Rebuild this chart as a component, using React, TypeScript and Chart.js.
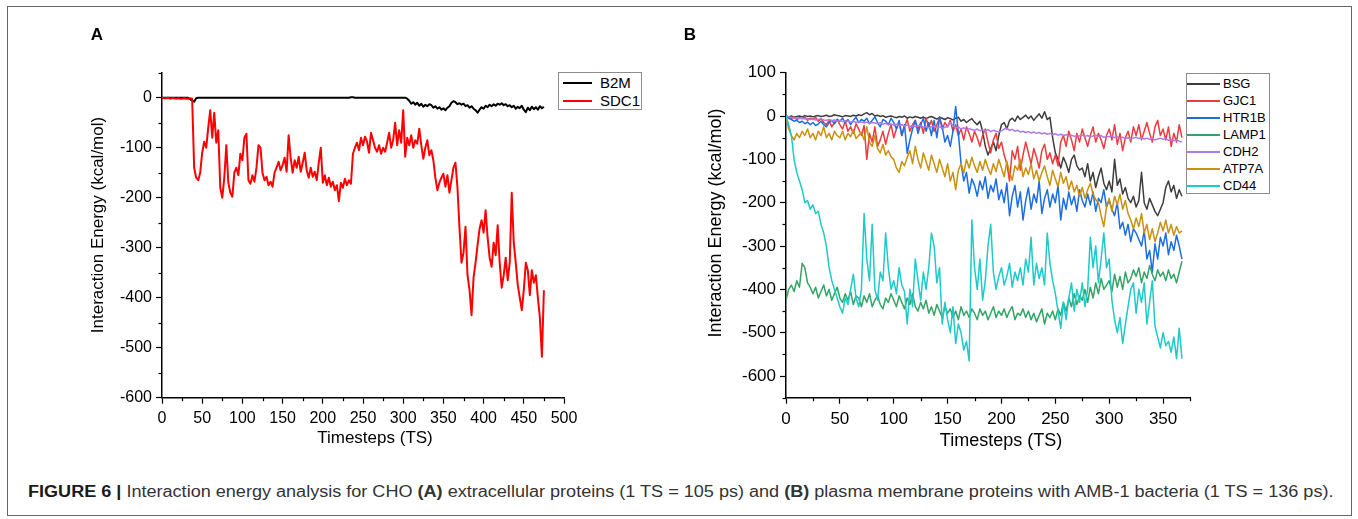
import React, { useEffect, useLayoutEffect, useRef, useState } from "react";
import { Chart, registerables } from "chart.js";

Chart.register(...registerables);

const FONT = '"Liberation Sans", Arial, Helvetica, sans-serif';

// ---------------- Panel A (1 TS step = 2.5) ----------------
const A_STEP = 2.5;
const A_NAMES = ["B2M", "SDC1"];
const A_COLORS = ["#000000", "#ff0000"];
const A_B2M = [
  0, 0, 0, 0, 0, 0, 0, 0, 0, 0,
  0, 0, 0, 0, -3, -6, -8, -1, 0, 0,
  0, 0, 0, 0, 0, 0, 0, 0, 0, 0,
  0, 0, 0, 0, 0, 0, 0, 0, 0, 0,
  0, 0, 0, 0, 0, 0, 0, 0, 0, 0,
  0, 0, 0, 0, 0, 0, 0, 0, 0, 0,
  0, 0, 0, 0, 0, 0, 0, 0, 0, 0,
  0, 0, 0, 0, 0, 0, 0, 0, 0, 0,
  0, 0, 0, 0, 0, 0, 0, 0, 0, 0,
  0, 0, 0, 0, 1, 1, 0, 0, 0, 0,
  0, 0, 0, 0, 0, 0, 0, 0, 0, 0,
  0, 0, 0, 0, 0, 0, 0, 0, 0, 0,
  0, 0, -2, -6, -12, -9, -14, -10, -16, -12,
  -18, -14, -17, -13, -15, -20, -17, -22, -19, -24,
  -21, -25, -20, -17, -10, -7, -9, -13, -11, -14,
  -12, -17, -15, -20, -17, -22, -25, -30, -24, -19,
  -22, -16, -19, -14, -17, -13, -16, -12, -14, -11,
  -15, -13, -17, -15, -19, -16, -22, -18, -21, -16,
  -24, -29, -20, -25, -18, -23, -19, -24, -17, -21,
  -18,
];
const A_SDC1 = [
  0, -1, -1, 0, -2, -1, -1, -2, -1, -2,
  -2, -1, -2, -2, -1, -2, -140, -160, -165, -150,
  -110, -88, -100, -60, -25, -80, -30, -90, -65, -180,
  -200, -160, -95, -170, -190, -198, -150, -140, -155, -112,
  -125, -80, -72, -165, -172, -155, -168, -140, -95, -100,
  -150, -165, -158, -175, -168, -178, -150, -140, -128, -145,
  -135, -120, -148, -75, -120, -150, -125, -140, -118, -148,
  -130, -110, -145, -160, -140, -158, -148, -165, -130, -100,
  -170, -155, -175, -160, -178, -168, -185, -175, -207, -170,
  -180, -162, -175, -165, -172, -112, -100, -90, -105, -80,
  -95, -78, -88, -110, -70, -85, -100, -108, -95, -112,
  -100, -108, -90, -70, -100, -85, -50, -95, -65, -90,
  -25, -118, -80, -95, -75, -100, -85, -92, -62, -95,
  -122, -100, -85, -115, -105, -125, -160, -185, -170, -160,
  -152, -178, -155, -190, -165, -140, -130, -180, -260, -330,
  -310, -258, -355, -385, -435, -360, -330, -295, -262, -245,
  -270, -225, -280, -320, -338, -290, -315, -255, -330, -380,
  -355, -320, -365, -330, -190, -290, -330, -375, -400, -425,
  -385, -330, -345, -395, -345, -370, -355, -400, -440, -518,
  -385,
];
const A_X_LABELS = [0, 50, 100, 150, 200, 250, 300, 350, 400, 450, 500];
const A_X_MINOR = [25, 75, 125, 175, 225, 275, 325, 375, 425, 475];
const A_Y_LABELS = [0, -100, -200, -300, -400, -500, -600];
const A_Y_MINOR = [50, -50, -150, -250, -350, -450, -550];

// ---------------- Panel B (step = 2.5 TS) ----------------
const B_STEP = 2.5;
const B_NAMES = ["BSG", "GJC1", "HTR1B", "LAMP1", "CDH2", "ATP7A", "CD44"];
const B_COLORS = ["#3d3d3d", "#ee3a3d", "#1c6ee0", "#33a366", "#b07ae6", "#c8910f", "#1dc9c9"];
const B_BSG = [
  0, -2, 0, -3, -1, 0, -2, 1, -1, 0,
  -2, 0, 1, -1, 0, 2, -1, 0, 3, 1,
  0, -2, 1, 0, -1, 2, 0, 3, 1, 5,
  8, 3, 6, 0, 2, -1, 1, -3, -1, 0,
  -2, -4, -1, -3, 0, -5, -2, -4, -1, -3,
  -5, -2, -6, -3, -1, -4, -7, -3, -5, -8,
  -4, -6, -9, -5, -3, -12, -8, -15, -10, -6,
  -14, -20, -12, -35, -70, -90, -75, -60, -80, -45,
  -20, -15, -30, -10, -5, -12, 0, -8, -3, 2,
  -6, 0, -10, -2, 5, -5, 10, -8, -3, -50,
  -85, -100, -120, -95, -110, -130, -100, -90, -115, -125,
  -120, -140, -110, -150, -130, -165, -140, -120, -155, -170,
  -150, -175, -100, -160, -145, -180, -165, -190, -200, -185,
  -210, -195, -130, -200, -215, -190, -205, -220, -230, -215,
  -200, -165, -150, -175, -160, -190, -170, -185,
];
const B_GJC1 = [
  0, -2, -5, -3, -8, -4, -6, -2, -10, -5,
  -8, -3, -12, -6, -15, -20, -10, -25, -15, -8,
  -20, -30, -12, -35, -25, -40, -18, -30, -45, -22,
  -100, -40, -60, -25, -70, -55, -35, -65, -40, -20,
  -50, -30, -15, -45, -25, -8, -35, -20, -10, -30,
  -15, -40, -5, -25, -10, -35, -20, -5, -30, -15,
  -25, -10, -35, -20, -45, -30, -55, -25, -40, -60,
  -35, -50, -70, -45, -30, -60, -85, -55, -40, -75,
  -60, -90, -110, -150, -80, -100, -70, -125, -90, -60,
  -85, -110, -75, -95, -120, -80, -65, -100, -85, -110,
  -90, -115, -60, -45, -70, -35, -55, -80, -40, -60,
  -30, -50, -70, -45, -25, -60, -40, -55, -75, -45,
  -30, -55, -20, -65, -40, -80, -50, -35, -60, -25,
  -45, -20, -55, -35, -15, -40, -60, -25, -10, -45,
  -30, -55, -25, -70, -40, -60, -20, -50,
];
const B_HTR1B = [
  0, -5, -8, -12, -10, -15, -12, -18, -14, -20,
  -15, -22, -18, -12, -20, -25, -15, -10, -18, -8,
  -12, -5, -15, -8, -20, -10, -3, -15, -8, -12,
  -5, -18, -10, -2, -15, -25, -8, -12, -20, -5,
  -15, -30, -10, -45, -20, -86, -55, -30, -10, -40,
  -20, -5, -35, -15, -45, -10, -50, -2, -25, -60,
  -45, -70, -35, 22, -40, -110, -150, -130, -178, -145,
  -160, -185, -150, -170, -140, -190, -160, -175, -145, -193,
  -170, -200, -155, -230, -185, -160, -210, -175, -240, -195,
  -165, -215, -180, -200, -150, -225, -190, -170, -210, -180,
  -200, -160, -240, -190, -215, -175, -205, -185, -220, -170,
  -195, -210, -180, -205, -175, -220, -190, -200, -170, -210,
  -195, -215, -230, -200, -260, -245, -275, -250, -290, -260,
  -270, -285, -300, -265, -330, -310, -360, -295, -330, -280,
  -300, -270, -320, -290, -310, -275, -300, -330,
];
const B_LAMP1 = [
  -425, -400, -390, -405, -380, -395, -340, -350, -385, -395,
  -410, -395, -420, -405, -390, -415, -400, -425, -410, -395,
  -420, -430, -410, -425, -405, -435, -415, -420, -440, -415,
  -430, -410, -440, -425, -415, -435, -445, -420, -430, -410,
  -425, -440, -415, -430, -445, -420, -435, -410, -440, -450,
  -430, -445, -425, -455, -440, -460, -435, -450, -465, -440,
  -455, -445, -465, -450, -470, -440, -460, -450, -465, -445,
  -455, -470, -445, -460, -450, -470, -455, -440, -465, -450,
  -460, -445, -465, -450, -440, -470, -455, -460, -445, -465,
  -450, -470, -455, -475, -460, -445, -480, -455, -465, -450,
  -470, -445, -460, -430, -450, -420, -440, -410, -435, -415,
  -425, -400, -430, -395, -420, -385, -410, -375, -400, -390,
  -380, -405, -365, -395, -370, -400, -360, -385, -375, -355,
  -370, -350, -385, -360, -375, -345, -365, -380, -355, -370,
  -360, -380, -355, -375, -365, -385, -360, -335,
];
const B_CDH2 = [
  0, -2, -3, -5, -4, -6, -5, -7, -6, -8,
  -7, -9, -8, -6, -9, -10, -8, -11, -9, -12,
  -10, -13, -11, -12, -14, -12, -15, -13, -14, -16,
  -14, -17, -15, -16, -18, -15, -19, -17, -20, -18,
  -21, -19, -22, -20, -23, -21, -24, -22, -25, -23,
  -22, -26, -24, -27, -25, -23, -27, -25, -28, -26,
  -24, -15, -22, -27, -25, -30, -27, -32, -29, -31,
  -33, -30, -34, -32, -35, -31, -36, -33, -35, -37,
  -34, -30, -28, -33, -31, -35, -33, -37, -35, -38,
  -36, -39, -37, -40, -38, -41, -39, -42, -40, -43,
  -41, -44, -42, -45, -43, -46, -44, -47, -45, -46,
  -44, -47, -45, -48, -46, -44, -47, -45, -49, -47,
  -48, -46, -50, -48, -51, -49, -52, -50, -53, -51,
  -49, -52, -50, -53, -51, -54, -52, -55, -53, -51,
  -54, -52, -56, -54, -57, -55, -58, -60,
];
const B_ATP7A = [
  0, -30, -45, -55, -40, -50, -35, -45, -30, -50,
  -40, -55, -35, -45, -25, -50, -40, -55, -35, -45,
  -50, -35, -55, -40, -48, -32, -52, -45, -38, -55,
  -25, -60, -70, -45, -75, -85, -65, -90, -80, -94,
  -100, -120, -130, -105, -115, -95, -80, -110, -70, -100,
  -120, -85, -105, -125, -90, -110, -130, -100, -120, -140,
  -110, -150, -130, -170, -125, -110, -132, -100, -120, -95,
  -115, -130, -105, -125, -100, -120, -135, -110, -128, -100,
  -120, -140, -105, -130, -148, -115, -125, -100, -140, -120,
  -135, -110, -145, -125, -150, -130, -115, -140, -160, -125,
  -145, -163, -130, -155, -140, -170, -150, -175, -160, -185,
  -165, -190, -170, -155, -180, -193, -200, -230, -255, -210,
  -190, -220, -185, -205, -180, -215, -195, -225, -240, -260,
  -235, -255, -225, -270, -250, -285, -260, -290, -270, -245,
  -265, -240, -270, -250, -275, -255, -270, -265,
];
const B_CD44 = [
  0, -20, -45, -100, -130, -150, -170, -200, -195, -215,
  -205, -225, -220, -250, -270, -300, -350, -380, -400, -420,
  -440, -455, -420, -435, -400, -365, -420, -440, -400, -225,
  -330, -380, -250, -400, -425, -360, -380, -270, -350, -400,
  -380, -410, -350, -390, -405, -480, -400, -440, -330, -380,
  -425, -360, -400, -350, -270, -300, -385, -350, -480, -430,
  -470, -500, -440, -525, -480, -500, -540, -520, -565, -240,
  -350, -400, -330, -425, -380, -300, -250, -360, -400, -370,
  -350, -390, -370, -340, -395, -360, -380, -350, -390, -330,
  -360, -280, -390, -340, -375, -350, -390, -270, -340, -380,
  -410, -450, -490, -430, -470, -420, -385, -450, -400, -430,
  -385, -440, -400, -280, -350, -300, -385, -330, -270, -350,
  -330, -425, -470, -500, -465, -525, -480, -440, -400, -385,
  -455, -400, -430, -385, -480, -430, -380, -485, -510, -535,
  -500, -530, -520, -545, -510, -560, -490, -560,
];
const B_X_LABELS = [0, 50, 100, 150, 200, 250, 300, 350];
const B_X_MINOR = [25, 75, 125, 175, 225, 275, 325, 375];
const B_Y_LABELS = [100, 0, -100, -200, -300, -400, -500, -600];
const B_Y_MINOR = [50, -50, -150, -250, -350, -450, -550, -650];

const CAPTION_WIDTH = 1305;

type Series = { name: string; color: string; values: number[] };

const minorTicks = {
  id: "minorTicks",
  afterDraw(chart: any, _a: any, opts: any) {
    const { ctx } = chart;
    const xs = chart.scales.x;
    const ys = chart.scales.y;
    ctx.save();
    ctx.strokeStyle = "#000";
    ctx.lineWidth = 1.2;
    (opts.x || []).forEach((v: number) => {
      const px = Math.round(xs.getPixelForValue(v)) + 0.5;
      ctx.beginPath();
      ctx.moveTo(px, xs.top);
      ctx.lineTo(px, xs.top + opts.len);
      ctx.stroke();
    });
    (opts.y || []).forEach((v: number) => {
      const py = Math.round(ys.getPixelForValue(v)) + 0.5;
      ctx.beginPath();
      ctx.moveTo(ys.right, py);
      ctx.lineTo(ys.right - opts.len, py);
      ctx.stroke();
    });
    ctx.restore();
  },
};

type PanelProps = {
  left: number;
  width: number;
  height: number;
  series: Series[];
  step: number;
  xMax: number;
  yMin: number;
  yMax: number;
  xLabels: number[];
  xMinor: number[];
  yLabels: number[];
  yMinor: number[];
  padding: { left: number; top: number; right: number; bottom: number };
  tickSize: number;
  lineWidth: number;
};

function Panel(p: PanelProps) {
  const ref = useRef<HTMLCanvasElement>(null);
  useEffect(() => {
    if (!ref.current) return;
    const datasets = p.series.map((s, i) => ({
      label: s.name,
      data: s.values.map((v, j) => ({ x: j * p.step, y: v })),
      borderColor: s.color,
      backgroundColor: s.color,
      borderWidth: p.lineWidth,
      pointRadius: 0,
      tension: 0,
      fill: false,
      borderJoinStyle: "round" as const,
      order: -i,
    }));
    const font = { family: FONT, size: p.tickSize };
    const chart = new Chart(ref.current, {
      type: "line",
      data: { datasets },
      plugins: [minorTicks],
      options: {
        animation: false,
        responsive: false,
        maintainAspectRatio: false,
        events: [],
        layout: { padding: p.padding },
        plugins: {
          legend: { display: false },
          tooltip: { enabled: false },
          title: { display: false },
          minorTicks: { x: p.xMinor, y: p.yMinor, len: 3.5 },
        } as any,
        scales: {
          x: {
            type: "linear",
            min: 0,
            max: p.xMax,
            border: { display: true, color: "#000", width: 1.5 },
            grid: {
              display: true,
              drawOnChartArea: false,
              drawTicks: true,
              tickLength: 6,
              tickColor: "#000",
              tickWidth: 1.2,
            },
            ticks: {
              stepSize: 50,
              includeBounds: false,
              autoSkip: false,
              maxRotation: 0,
              minRotation: 0,
              padding: 5,
              color: "#000",
              font,
              callback: (v: any) => (p.xLabels.includes(Number(v)) ? String(v) : ""),
            },
            afterFit: (s: any) => {
              s.height = 30;
              s.paddingLeft = 0;
              s.paddingRight = 0;
              s.paddingTop = 0;
              s.paddingBottom = 0;
            },
          },
          y: {
            type: "linear",
            min: p.yMin,
            max: p.yMax,
            border: { display: true, color: "#000", width: 1.5 },
            grid: {
              display: true,
              drawOnChartArea: false,
              drawTicks: true,
              tickLength: 6,
              tickColor: "#000",
              tickWidth: 1.2,
            },
            ticks: {
              stepSize: 100,
              includeBounds: false,
              autoSkip: false,
              padding: 4,
              color: "#000",
              font,
              callback: (v: any) => (p.yLabels.includes(Number(v)) ? String(v) : ""),
            },
            afterFit: (s: any) => {
              s.width = 60;
              s.paddingLeft = 0;
              s.paddingRight = 0;
              s.paddingTop = 0;
              s.paddingBottom = 0;
            },
          },
        },
      } as any,
    });
    return () => chart.destroy();
  }, []);
  return (
    <canvas
      ref={ref}
      width={p.width}
      height={p.height}
      style={{ position: "absolute", left: p.left, top: 0, width: p.width, height: p.height, display: "block" }}
    />
  );
}

function Legend(props: {
  left: number;
  top: number;
  width: number;
  height: number;
  series: Series[];
  firstY: number;
  gap: number;
  lineX: number;
  lineW: number;
  textX: number;
  fontSize: number;
}) {
  return (
    <div
      style={{
        position: "absolute",
        left: props.left,
        top: props.top,
        width: props.width,
        height: props.height,
        border: "1px solid #8c8c8c",
        boxSizing: "border-box",
        background: "#fff",
      }}
    >
      {props.series.map((s, i) => (
        <div key={s.name}>
          <div
            style={{
              position: "absolute",
              left: props.lineX,
              top: props.firstY + i * props.gap - 1,
              width: props.lineW,
              height: 2,
              background: s.color,
            }}
          />
          <div
            style={{
              position: "absolute",
              left: props.textX,
              top: props.firstY + i * props.gap - props.fontSize * 0.6,
              fontSize: props.fontSize,
              lineHeight: `${props.fontSize * 1.2}px`,
              fontFamily: FONT,
              color: "#000",
              whiteSpace: "nowrap",
            }}
          >
            {s.name}
          </div>
        </div>
      ))}
    </div>
  );
}

function Label(props: { x: number; y: number; text: string; size: number; rotate?: boolean; bold?: boolean }) {
  return (
    <div
      style={{
        position: "absolute",
        left: props.x,
        top: props.y,
        transform: `translate(-50%, -50%)${props.rotate ? " rotate(-90deg)" : ""}`,
        fontFamily: FONT,
        fontSize: props.size,
        fontWeight: props.bold ? 700 : 400,
        lineHeight: 1,
        whiteSpace: "nowrap",
        color: "#000",
      }}
    >
      {props.text}
    </div>
  );
}

function Caption() {
  const ref = useRef<HTMLDivElement>(null);
  const [k, setK] = useState(1);
  useLayoutEffect(() => {
    if (ref.current) {
      const w = ref.current.scrollWidth;
      if (w > 0) setK(CAPTION_WIDTH / w);
    }
  }, []);
  return (
    <div
      ref={ref}
      style={{
        position: "absolute",
        left: 28,
        top: 482,
        whiteSpace: "nowrap",
        fontFamily: FONT,
        fontSize: 16,
        lineHeight: "20px",
        color: "#333",
        transform: `scaleX(${k})`,
        transformOrigin: "0 0",
      }}
    >
      <b style={{ color: "#1a1a1a" }}>FIGURE 6 |</b> Interaction energy analysis for CHO <b>(A)</b> extracellular
      proteins (1 TS = 105 ps) and <b>(B)</b> plasma membrane proteins with AMB-1 bacteria (1 TS = 136 ps).
    </div>
  );
}

export default function App() {
  const seriesA: Series[] = [
    { name: A_NAMES[0], color: A_COLORS[0], values: A_B2M },
    { name: A_NAMES[1], color: A_COLORS[1], values: A_SDC1 },
  ];
  const bValues = [B_BSG, B_GJC1, B_HTR1B, B_LAMP1, B_CDH2, B_ATP7A, B_CD44];
  const seriesB: Series[] = B_NAMES.map((n, i) => ({ name: n, color: B_COLORS[i], values: bValues[i] }));

  return (
    <div
      style={{
        position: "absolute",
        left: 0,
        top: 0,
        width: 1358,
        height: 519,
        background: "#fff",
        overflow: "hidden",
        fontFamily: FONT,
      }}
    >
      <div
        style={{
          position: "absolute",
          left: 7,
          top: 6,
          width: 1345,
          height: 510,
          border: "1px solid #666",
          boxSizing: "border-box",
        }}
      />
      <Panel
        left={0}
        width={680}
        height={470}
        series={seriesA}
        step={A_STEP}
        xMax={500}
        yMin={-600}
        yMax={50}
        xLabels={A_X_LABELS}
        xMinor={A_X_MINOR}
        yLabels={A_Y_LABELS}
        yMinor={A_Y_MINOR}
        padding={{ left: 102, top: 72.7, right: 116, bottom: 42.3 }}
        tickSize={16}
        lineWidth={2}
      />
      <Panel
        left={680}
        width={678}
        height={470}
        series={seriesB}
        step={B_STEP}
        xMax={375}
        yMin={-650}
        yMax={100}
        xLabels={B_X_LABELS}
        xMinor={B_X_MINOR}
        yLabels={B_Y_LABELS}
        yMinor={B_Y_MINOR}
        padding={{ left: 46, top: 72.7, right: 168, bottom: 42.3 }}
        tickSize={17}
        lineWidth={1.5}
      />
      <Label x={97} y={34} text="A" size={17} bold />
      <Label x={690} y={34} text="B" size={17} bold />
      <Label x={375} y={437} text="Timesteps (TS)" size={17} />
      <Label x={1001} y={440} text="Timesteps (TS)" size={18} />
      <Label x={96.5} y={224.5} text="Interaction Energy (kcal/mol)" size={17} rotate />
      <Label x={715} y={223} text="Interaction Energy (kcal/mol)" size={18} rotate />
      <Legend
        left={558}
        top={72}
        width={84}
        height={38}
        series={seriesA}
        firstY={9.5}
        gap={18}
        lineX={4}
        lineW={29}
        textX={41}
        fontSize={15}
      />
      <Legend
        left={1186}
        top={73}
        width={84}
        height={121}
        series={seriesB}
        firstY={10}
        gap={17}
        lineX={0}
        lineW={33}
        textX={36}
        fontSize={13}
      />
      <Caption />
    </div>
  );
}
